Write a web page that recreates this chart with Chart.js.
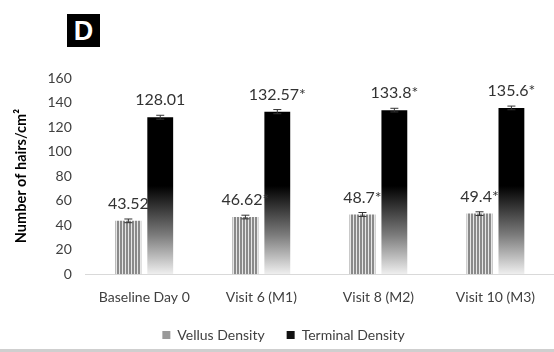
<!DOCTYPE html>
<html>
<head>
<meta charset="utf-8">
<script src="https://cdn.jsdelivr.net/npm/chart.js@4"></script>
<style>
  html, body { margin: 0; padding: 0; background: #fff; }
  #wrap { position: relative; width: 554px; height: 352px; overflow: hidden; }
  #panel {
    position: absolute; left: 67px; top: 14px; width: 33px; height: 33px;
    background: #000; color: #fff; font: bold 27px "Liberation Sans", Arial, sans-serif;
    text-align: center; line-height: 34px;
  }
  #edge { position: absolute; left: 0; right: 0; top: 349px; height: 3px; background: #cfcfcf; }
</style>
</head>
<body>
<div id="wrap">
  <canvas id="chart" width="554" height="352"></canvas>
  <div id="panel">D</div>
  <div id="edge"></div>
</div>
<script>
const categories = ['Baseline Day 0', 'Visit 6 (M1)', 'Visit 8 (M2)', 'Visit 10 (M3)'];
const vellusDensity = [43.52, 46.62, 48.7, 49.4];
const terminalDensity = [128.01, 132.57, 133.8, 135.6];
const vellusError = [1.5, 1.5, 1.6, 1.5];
const terminalError = [1.6, 1.7, 1.5, 1.5];
const vellusLabels = ['43.52', '46.62*', '48.7*', '49.4*'];
const terminalLabels = ['128.01', '132.57*', '133.8*', '135.6*'];

const errors = [vellusError, terminalError];
const labelTexts = [vellusLabels, terminalLabels];

// vertical stripes for vellus bars
function stripePattern(ctx) {
    const c = document.createElement('canvas');
    c.width = 3; c.height = 4;
    const p = c.getContext('2d');
    p.fillStyle = '#e6e6e6';
    p.fillRect(0, 0, 3, 4);
    p.fillStyle = '#8a8a8a';
    p.fillRect(0, 0, 2, 4);
    return ctx.createPattern(c, 'repeat');
}

function terminalFill(context) {
    const chart = context.chart;
    const area = chart.chartArea;
    if (!area) return '#000';
    const y = chart.scales.y;
    const g = chart.ctx.createLinearGradient(0, area.bottom, 0, y.getPixelForValue(72));
    g.addColorStop(0, '#efefef');
    g.addColorStop(0.45, '#7a7a7a');
    g.addColorStop(1, '#000000');
    return g;
}

const barExtras = {
    id: 'barExtras',
    afterDatasetsDraw(chart) {
        const ctx = chart.ctx;
        const yScale = chart.scales.y;
        chart.data.datasets.forEach((ds, di) => {
            const meta = chart.getDatasetMeta(di);
            meta.data.forEach((bar, i) => {
                const v = ds.data[i];
                const e = errors[di][i];
                const yTop = yScale.getPixelForValue(v + e);
                const yBot = yScale.getPixelForValue(v - e);
                ctx.save();
                ctx.strokeStyle = '#333';
                ctx.lineWidth = 1;
                ctx.beginPath();
                ctx.moveTo(bar.x, yTop); ctx.lineTo(bar.x, yBot);
                ctx.moveTo(bar.x - 4, yTop); ctx.lineTo(bar.x + 4, yTop);
                ctx.moveTo(bar.x - 4, yBot); ctx.lineTo(bar.x + 4, yBot);
                ctx.stroke();
                ctx.fillStyle = '#333';
                ctx.font = '16px Lato';
                ctx.textAlign = 'center';
                ctx.textBaseline = 'middle';
                ctx.fillText(labelTexts[di][i], bar.x, yScale.getPixelForValue(v) - 17);
                ctx.restore();
            });
        });
    }
};

const canvas = document.getElementById('chart');
const ctx = canvas.getContext('2d');

new Chart(ctx, {
    type: 'bar',
    data: {
        labels: categories,
        datasets: [
            {
                label: 'Vellus Density',
                data: vellusDensity,
                backgroundColor: stripePattern(ctx),
                categoryPercentage: 0.545,
                barPercentage: 0.81
            },
            {
                label: 'Terminal Density',
                data: terminalDensity,
                backgroundColor: terminalFill,
                categoryPercentage: 0.545,
                barPercentage: 0.81
            }
        ]
    },
    options: {
        responsive: false,
        animation: false,
        layout: { padding: { top: 78, left: 13, right: 0, bottom: 0 } },
        scales: {
            x: {
                grid: { display: false },
                border: { display: true, color: '#d9d9d9', width: 1 },
                ticks: { color: '#404040', font: { family: 'Lato', size: 14 }, padding: 7 }
            },
            y: {
                min: 0,
                max: 160,
                grid: { display: false },
                border: { display: false },
                ticks: { stepSize: 20, color: '#404040', font: { family: 'Lato', size: 14 }, padding: 6 },
                title: {
                    display: true,
                    text: 'Number of hairs/cm²',
                    color: '#000',
                    font: { family: 'Lato', size: 14.5, weight: 'bold' },
                    padding: { top: 0, bottom: 11 }
                }
            }
        },
        plugins: {
            legend: {
                position: 'bottom',
                labels: {
                    color: '#404040',
                    font: { family: 'Lato', size: 14 },
                    boxWidth: 8,
                    boxHeight: 8,
                    padding: 15,
                    generateLabels(chart) {
                        return chart.data.datasets.map((ds, i) => ({
                            text: i === 0 ? ds.label + '\u2002' : ds.label,
                            fillStyle: i === 0 ? '#9a9a9a' : '#111',
                            strokeStyle: 'transparent',
                            lineWidth: 0,
                            fontColor: '#404040',
                            datasetIndex: i
                        }));
                    }
                }
            },
            tooltip: { enabled: false }
        }
    },
    plugins: [barExtras]
});
</script>
</body>
</html>
